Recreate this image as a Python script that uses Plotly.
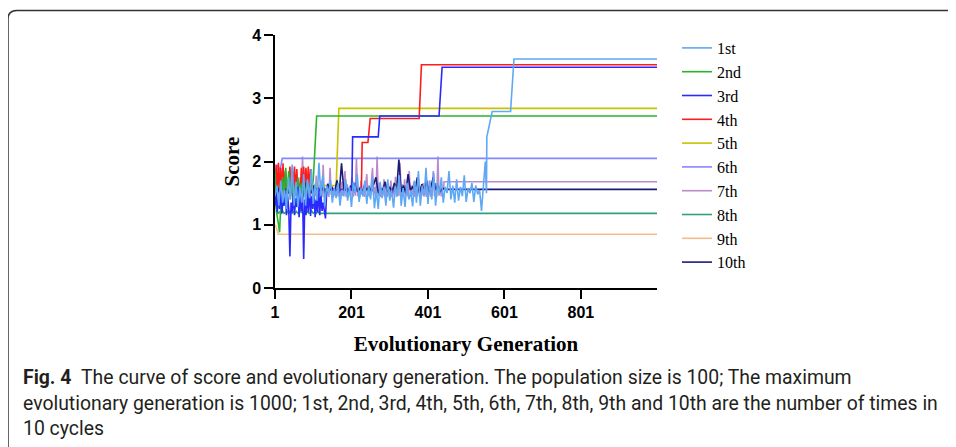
import plotly.graph_objects as go

# ---------------- data ----------------
series_names = ["1st", "2nd", "3rd", "4th", "5th", "6th", "7th", "8th", "9th", "10th"]

# each run: noisy early part (start generation, step, values) + tail breakpoints
s1_start, s1_step = 1, 5
s1_noise = [1.45, 1.62, 1.30, 1.70, 1.35, 1.55, 1.25, 1.75, 1.40, 1.95,
            1.30, 1.68, 1.28, 1.60, 1.35, 1.80, 1.30, 1.72, 1.42, 1.88,
            1.33, 1.65, 1.38, 1.98, 1.45, 1.78, 1.30, 1.62, 1.48, 1.70,
            1.35, 1.58, 1.42, 1.66, 1.30, 1.55, 1.45, 1.72, 1.38, 1.60,
            1.28, 1.68, 1.50, 1.80, 1.36, 1.58, 1.45, 1.70, 1.33, 1.62,
            1.40, 1.75, 1.26, 1.55, 1.25, 1.68, 1.42, 1.60, 1.30, 1.72,
            1.38, 1.55, 1.27, 1.62, 1.45, 1.78, 1.30, 1.58, 1.28, 1.66,
            1.40, 1.52, 1.29, 1.70, 1.35, 1.85, 1.30, 1.62, 1.45, 1.90,
            1.33, 1.70, 1.40, 1.82, 1.30, 1.66, 1.48, 1.75, 1.35, 1.60,
            1.50, 1.85, 1.40, 1.62, 1.35, 1.72, 1.38, 1.60, 1.45, 1.78,
            1.36, 1.58, 1.50, 1.66, 1.36, 1.62, 1.48, 1.55, 1.22, 1.58, 2.00]
s1_tail_gen = [554, 555, 569, 617, 626, 1000]
s1_tail_score = [1.50, 2.39, 2.79, 2.79, 3.62, 3.62]

s2_start, s2_step = 1, 4
s2_noise = [1.85, 1.20, 1.05, 0.88, 1.45, 1.75, 1.45, 1.90, 1.50, 1.85,
            1.40, 1.70, 1.35, 1.60, 1.45, 1.75, 1.50, 1.65, 1.42, 1.58,
            1.50, 1.68, 1.48, 1.60, 1.55, 1.70]
s2_tail_gen = [110, 1000]
s2_tail_score = [2.72, 2.72]

s3_start, s3_step = 1, 3
s3_noise = [1.30, 1.55, 1.20, 1.45, 1.25, 1.60, 1.18, 1.40, 1.30, 1.55,
            1.15, 1.45, 1.25, 0.50, 1.35, 1.20, 1.50, 1.15, 1.42, 1.28,
            1.60, 1.12, 1.45, 1.22, 1.55, 0.46, 1.40, 1.15, 1.50, 1.20,
            1.62, 1.14, 1.45, 1.25, 1.55, 1.12, 1.40, 1.20, 1.60, 1.15,
            1.48, 1.22, 1.35, 1.18, 1.10, 1.50]
s3_tail_gen = [140, 202, 204, 271, 275, 430, 438, 1000]
s3_tail_score = [1.55, 1.55, 2.39, 2.39, 2.72, 2.72, 3.49, 3.49]

s4_start, s4_step = 1, 3
s4_noise = [1.55, 1.95, 1.50, 1.98, 1.52, 1.90, 1.55, 1.97, 1.50, 1.85,
            1.58, 1.60, 1.52, 1.92, 1.50, 1.90, 1.55, 1.92, 1.50, 1.88,
            1.55, 1.65, 1.52, 1.90, 1.50, 1.92, 1.55, 1.90, 1.50, 1.92,
            1.55, 1.88, 1.52, 1.56]
s4_tail_gen = [227, 229, 244, 250, 378, 384, 1000]
s4_tail_score = [1.56, 2.30, 2.30, 2.68, 2.68, 3.53, 3.53]

s5_start, s5_step = 1, 6
s5_noise = [1.60, 1.50, 1.65, 1.55, 1.70, 1.52, 1.62, 1.58, 1.66, 1.50,
            1.60, 1.55, 1.64, 1.58, 1.62, 1.60, 1.62]
s5_tail_gen = [161, 168, 1000]
s5_tail_score = [1.62, 2.84, 2.84]

s6_start, s6_step = 1, 1
s6_noise = []
s6_tail_gen = [1, 8, 14, 18, 20, 1000]
s6_tail_score = [1.75, 1.95, 1.85, 1.97, 2.05, 2.05]

s7_start, s7_step = 1, 3
s7_noise = [1.62, 1.44, 1.72, 1.46, 1.58, 1.45, 1.80, 1.44, 1.55, 1.47,
            1.68, 1.44, 1.60, 1.46, 1.85, 1.45, 1.57, 1.44, 1.66, 1.47,
            1.62, 1.44, 1.75, 1.46, 2.08, 1.45, 1.58, 1.44, 1.70, 1.46,
            1.55, 1.44, 1.66, 1.47, 1.60, 1.45, 1.78, 1.44, 1.56, 1.46,
            1.70, 1.44, 1.95, 1.46, 1.58, 1.45, 1.66, 1.44, 1.90, 1.47,
            1.62, 1.44, 1.55, 1.46, 1.72, 1.45, 1.60, 1.44, 1.68, 1.46,
            1.56, 1.85, 1.44, 1.64, 1.46, 1.58, 1.45, 1.75, 1.44, 1.62,
            1.46, 2.05, 1.45, 1.60, 1.44, 1.70, 1.47, 1.56, 1.44, 1.66,
            1.80, 1.45, 1.58, 1.44, 1.64, 1.90, 1.46, 1.60, 1.44, 2.08,
            1.45, 1.66, 1.44, 1.58, 1.46, 1.72, 1.45, 1.62, 1.44, 1.55,
            1.46, 1.70, 1.44, 1.60, 1.45, 1.76, 1.44, 1.58, 1.46, 1.98,
            1.45, 1.64, 1.44, 1.72, 1.46, 1.58, 1.45, 1.85, 1.44, 1.62,
            1.46, 1.68, 1.44, 1.56, 1.45, 1.74, 1.44, 1.60, 1.46, 1.66,
            1.45, 1.58, 1.44, 1.70, 1.46, 1.62, 1.44, 1.56, 1.85, 1.45,
            1.66, 1.44, 2.08, 1.46, 1.60, 1.45, 1.58, 1.55]
s7_tail_gen = [443, 1000]
s7_tail_score = [1.68, 1.68]

s8_start, s8_step = 1, 4
s8_noise = [1.45, 1.25, 1.18, 1.20, 1.18, 1.22, 1.18, 1.19, 1.21, 1.18,
            1.22, 1.18, 1.20, 1.18, 1.21, 1.18, 1.19, 1.22, 1.18, 1.20,
            1.18, 1.21, 1.18, 1.19, 1.22, 1.18, 1.20, 1.18, 1.21, 1.18, 1.18]
s8_tail_gen = [1000]
s8_tail_score = [1.18]

s9_start, s9_step = 1, 1
s9_noise = []
s9_tail_gen = [1, 5, 9, 1000]
s9_tail_score = [1.00, 0.95, 0.85, 0.85]

s10_start, s10_step = 1, 6
s10_noise = [1.55, 1.60, 1.50, 1.62, 1.52, 1.58, 1.50, 1.64, 1.53, 1.57,
             1.50, 1.60, 1.54, 1.66, 1.52, 1.58, 1.50, 1.62, 1.55, 1.57,
             1.52, 1.60, 1.50, 1.64, 1.55, 1.58, 1.52, 1.70, 1.50, 1.97,
             1.55, 1.60, 1.50, 1.62, 1.54, 1.66, 1.52, 1.58, 1.50, 1.63,
             1.55, 1.60, 1.52, 1.64, 1.75, 1.50, 1.58, 1.55, 1.68, 1.52,
             1.60, 1.50, 1.66, 1.55, 2.03, 1.52, 1.62, 1.50, 1.80, 1.55,
             1.60, 1.52, 1.75, 1.50, 1.64, 1.55, 1.70, 1.52, 1.60, 1.75,
             1.55, 1.62, 1.52, 1.58, 1.56]
s10_tail_gen = [1000]
s10_tail_score = [1.56]

x_tick_vals = [1, 201, 401, 601, 801]
y_tick_vals = [0, 1, 2, 3, 4]

# ---------------- styling ----------------
colors = {
    "1st": "#5ea8f6", "2nd": "#2cb32c", "3rd": "#2a2aff", "4th": "#ff1c1c",
    "5th": "#c8c200", "6th": "#8585ff", "7th": "#ba8acb", "8th": "#2ea37a",
    "9th": "#f6bb8d", "10th": "#1b1b78",
}

runs = {
    "1st": (s1_start, s1_step, s1_noise, s1_tail_gen, s1_tail_score),
    "2nd": (s2_start, s2_step, s2_noise, s2_tail_gen, s2_tail_score),
    "3rd": (s3_start, s3_step, s3_noise, s3_tail_gen, s3_tail_score),
    "4th": (s4_start, s4_step, s4_noise, s4_tail_gen, s4_tail_score),
    "5th": (s5_start, s5_step, s5_noise, s5_tail_gen, s5_tail_score),
    "6th": (s6_start, s6_step, s6_noise, s6_tail_gen, s6_tail_score),
    "7th": (s7_start, s7_step, s7_noise, s7_tail_gen, s7_tail_score),
    "8th": (s8_start, s8_step, s8_noise, s8_tail_gen, s8_tail_score),
    "9th": (s9_start, s9_step, s9_noise, s9_tail_gen, s9_tail_score),
    "10th": (s10_start, s10_step, s10_noise, s10_tail_gen, s10_tail_score),
}

draw_order = ["9th", "8th", "7th", "6th", "5th", "4th", "10th", "2nd", "3rd", "1st"]

fig = go.Figure()
for name in draw_order:
    start, step, noise, tg, ts = runs[name]
    gens = [start + i * step for i in range(len(noise))] + list(tg)
    scores = list(noise) + list(ts)
    fig.add_trace(go.Scatter(
        x=gens, y=scores, mode="lines", name=name,
        line=dict(color=colors[name], width=1.6),
        legendrank=series_names.index(name) + 1,
    ))

# page body adds an 8px offset; figure geometry expressed in reference pixels
OFF = 8
W, H = 956 - OFF, 447 - OFF
PLOT_L, PLOT_R, PLOT_T, PLOT_B = 275, 657, 35, 288   # reference pixel box of plot area
ML, MT = PLOT_L - OFF, PLOT_T - OFF
MR, MB = W - (PLOT_R - OFF), H - (PLOT_B - OFF)
PW, PH = PLOT_R - PLOT_L, PLOT_B - PLOT_T


def pxx(p):
    return (p - PLOT_L) / PW


def pxy(p):
    return (PLOT_B - p) / PH


axis_common = dict(
    showline=True, linecolor="black", linewidth=1.5,
    ticks="outside", ticklen=9, tickwidth=1.5, tickcolor="black",
    showgrid=False, zeroline=False,
    tickfont=dict(family="Liberation Sans", size=16, color="black", weight="bold"),
)

fig.update_layout(
    width=W, height=H,
    margin=dict(l=ML, r=MR, t=MT, b=MB, pad=0),
    paper_bgcolor="white", plot_bgcolor="white",
    showlegend=True,
    legend=dict(
        x=pxx(677), y=pxy(31), xanchor="left", yanchor="top",
        font=dict(family="Liberation Serif", size=16, color="black"),
        bgcolor="rgba(0,0,0,0)", tracegroupgap=0, maxheight=400,
    ),
    xaxis=dict(
        range=[1, 1000], tickvals=x_tick_vals, ticktext=[str(v) for v in x_tick_vals],
        title=dict(text="Evolutionary Generation", standoff=16,
                   font=dict(family="Liberation Serif", size=21, color="black", weight="bold")),
        **axis_common,
    ),
    yaxis=dict(
        range=[0, 4], tickvals=y_tick_vals,
        title=dict(text="Score", standoff=7,
                   font=dict(family="Liberation Serif", size=21, color="black", weight="bold")),
        **axis_common,
    ),
)

# rounded frame around figure
fig.add_shape(
    type="path", xref="paper", yref="paper",
    path=(f"M {pxx(8)},{pxy(460)} L {pxx(8)},{pxy(19)} "
          f"Q {pxx(8)},{pxy(10.5)} {pxx(17)},{pxy(10.5)} L {pxx(970)},{pxy(10.5)}"),
    line=dict(color="#333333", width=1.5),
)

caption_lines = [
    "<b>Fig. 4</b>\u00a0\u00a0The curve of score and evolutionary generation. The population size is 100; The maximum",
    "evolutionary generation is 1000; 1st, 2nd, 3rd, 4th, 5th, 6th, 7th, 8th, 9th and 10th are the number of times in",
    "10 cycles",
]
for txt, yc in zip(caption_lines, [377, 403, 428]):
    fig.add_annotation(
        text=txt, xref="paper", yref="paper", x=pxx(21), y=pxy(yc),
        xanchor="left", yanchor="middle", showarrow=False, align="left",
        font=dict(family="Roboto", size=19.4, color="#231f20"),
    )

fig.write_html("out.html")
